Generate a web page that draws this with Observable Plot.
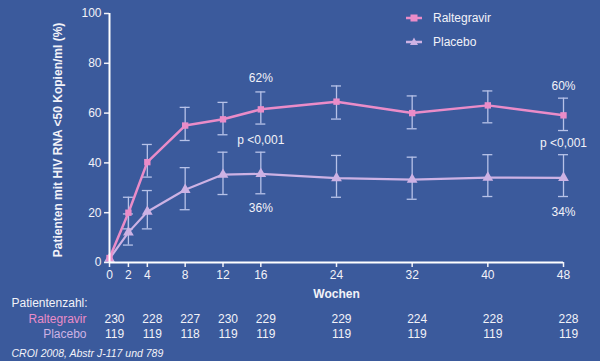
<!DOCTYPE html>
<html><head><meta charset="utf-8">
<script src="https://cdn.jsdelivr.net/npm/d3@7"></script>
<script src="https://cdn.jsdelivr.net/npm/@observablehq/plot@0.6"></script>
<style>
html,body{margin:0;padding:0;background:#3b5a9c;}
#chart{position:relative;width:600px;height:361px;font-family:"Liberation Sans",Arial,sans-serif;}
.lg{position:absolute;left:405px;height:16px;display:flex;align-items:center;font-size:12px;color:#f2f2f8;}
.lg svg{display:block;margin-right:10px;}
</style></head><body><div id="chart"></div>
<script>
const weeks = [0, 2, 4, 8, 12, 16, 24, 32, 40, 48];
const raltegravir   = [1.8, 20, 40.3, 55, 57.5, 61.5, 64.6, 60, 63.1, 59.1];
const raltegravirHi = [null, 26.2, 47.4, 62.3, 64.3, 68.5, 70.9, 66.9, 68.9, 66];
const raltegravirLo = [null, 13.5, 34.3, 49, 51.3, 55.6, 57.6, 53.7, 56.1, 53];
const placebo   = [1.5, 12.1, 20.4, 29.2, 35.3, 35.6, 33.9, 33.3, 34.1, 34];
const placeboHi = [null, 19.5, 28.9, 38.1, 44.3, 44.3, 43, 42.3, 43.3, 43.3];
const placeboLo = [null, 7, 13.5, 21.2, 27.3, 27.6, 26.2, 25.4, 26.5, 26.5];

const xTicks = [0, 2, 4, 8, 12, 16, 24, 32, 40, 48];
const yTicks = [0, 20, 40, 60, 80, 100];

const countWeeks = [0, 4, 8, 12, 16, 24, 32, 40, 48];
const countRaltegravir = [230, 228, 227, 230, 229, 229, 224, 228, 228];
const countPlacebo = [119, 119, 118, 119, 119, 119, 119, 119, 119];

const annotWeeks = [16, 16, 16, 48, 48, 48];
const annotValues = [74, 49.3, 21.9, 70.7, 47.9, 20.2];
const annotTexts = ["62%", "p <0,001", "36%", "60%", "p <0,001", "34%"];

const seriesNames = ["Raltegravir", "Placebo"];
const yLabel = "Patienten mit HIV RNA <50 Kopien/ml (%)";
const xLabel = "Wochen";
const countTitle = "Patientenzahl:";
const caption = "CROI 2008, Abstr J-117 und 789";

const PINK = "#ea8cc8", LAV = "#cdb2e4", ERR = "#b7c2e8", TXT = "#f2f2f8";

const ral = weeks.map((w, i) => ({week: w, v: raltegravir[i], hi: raltegravirHi[i], lo: raltegravirLo[i]}));
const pla = weeks.map((w, i) => ({week: w, v: placebo[i], hi: placeboHi[i], lo: placeboLo[i]}));
const errs = [...ral, ...pla].filter(d => d.hi != null);
const counts = countWeeks.map((w, i) => ({week: w, r: countRaltegravir[i], p: countPlacebo[i]}));
const annots = annotWeeks.map((w, i) => ({week: w, v: annotValues[i], t: annotTexts[i]}));

const T = {lineAnchor: "middle", fontSize: 12, fill: TXT};

const plot = Plot.plot({
  width: 600, height: 361,
  marginLeft: 109, marginRight: 37, marginTop: 13, marginBottom: 99,
  style: {background: "#3b5a9c", color: TXT, fontFamily: "Liberation Sans, Arial, sans-serif", fontSize: "12px"},
  x: {domain: [0, 48], axis: null},
  y: {domain: [0, 100], axis: null},
  marks: [
    Plot.axisY({ticks: yTicks, tickSize: 5, tickPadding: 3, label: null, strokeWidth: 1.5, fontSize: 12}),
    Plot.axisX({ticks: xTicks, tickSize: 5, tickPadding: 3, label: null, strokeWidth: 1.5, fontSize: 12}),
    Plot.ruleX(errs, {x: "week", y1: "lo", y2: "hi", stroke: ERR, strokeWidth: 1.3}),
    Plot.ruleY(errs, {x1: "week", x2: "week", y: "hi", stroke: ERR, strokeWidth: 1.3, insetLeft: -5, insetRight: -5}),
    Plot.ruleY(errs, {x1: "week", x2: "week", y: "lo", stroke: ERR, strokeWidth: 1.3, insetLeft: -5, insetRight: -5}),
    Plot.line(pla, {x: "week", y: "v", stroke: LAV, strokeWidth: 2.2}),
    Plot.line(ral, {x: "week", y: "v", stroke: PINK, strokeWidth: 2.5}),
    Plot.dot(pla, {x: "week", y: "v", symbol: "triangle", r: 4, fill: LAV}),
    Plot.dot(ral, {x: "week", y: "v", symbol: "square", r: 3.6, fill: PINK}),
    Plot.ruleX([0], {y1: 0, y2: 100, stroke: "white", strokeWidth: 2}),
    Plot.ruleY([0], {x1: 0, x2: 48, stroke: "white", strokeWidth: 2}),
    Plot.text(annots, {x: "week", y: "v", text: "t", ...T}),
    Plot.text([yLabel], {frameAnchor: "left", dx: -51, dy: 2, rotate: -90, textAnchor: "middle", fontWeight: "bold", ...T}),
    Plot.text([xLabel], {frameAnchor: "bottom", dy: 32, textAnchor: "middle", fontWeight: "bold", ...T}),
    Plot.text([countTitle], {frameAnchor: "bottom-left", dx: -98, dy: 41, textAnchor: "start", ...T}),
    Plot.text([seriesNames[0]], {frameAnchor: "bottom-left", dx: -23, dy: 56.5, textAnchor: "end", ...T, fill: PINK}),
    Plot.text([seriesNames[1]], {frameAnchor: "bottom-left", dx: -23, dy: 72, textAnchor: "end", ...T, fill: LAV}),
    Plot.text(counts, {x: "week", frameAnchor: "bottom", text: "r", dx: 5, dy: 56.5, textAnchor: "middle", ...T}),
    Plot.text(counts, {x: "week", frameAnchor: "bottom", text: "p", dx: 5, dy: 72, textAnchor: "middle", ...T}),
    Plot.text([caption], {frameAnchor: "bottom-left", dx: -98, dy: 91, textAnchor: "start", ...T, fontSize: 10.5, fontStyle: "italic"})
  ]
});
const chart = document.getElementById("chart");
chart.appendChild(plot);

function legendRow(name, color, symbol, top) {
  const div = document.createElement("div");
  div.className = "lg";
  div.style.top = top + "px";
  const mark = symbol === "square"
    ? `<rect x="5.5" y="4.5" width="7" height="7" fill="${color}"/>`
    : `<path d="M9,3.5 L13,11 L5,11 Z" fill="${color}"/>`;
  div.innerHTML = `<svg width="18" height="16"><line x1="1" x2="17" y1="8" y2="8" stroke="${color}" stroke-width="2.5"/>${mark}</svg><span>${name}</span>`;
  chart.appendChild(div);
}
legendRow(seriesNames[0], PINK, "square", 10);
legendRow(seriesNames[1], LAV, "triangle", 34);
</script>
</body></html>
